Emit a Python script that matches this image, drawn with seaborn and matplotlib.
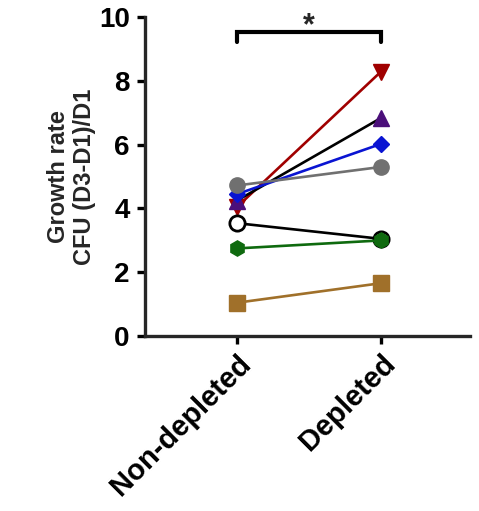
import pandas as pd
import matplotlib.pyplot as plt
import seaborn as sns

# paired growth rates, one entry per subject
groups = ["Non-depleted", "Depleted"]
non_depleted = [4.05, 4.25, 4.45, 4.72, 3.54, 2.75, 1.05]
depleted = [8.28, 6.83, 6.02, 5.30, 3.05, 3.00, 1.66]
subjects = ["s1", "s2", "s3", "s4", "s5", "s6", "s7"]
marker_styles = ["v", "^", "D", "o", "o", "h", "s"]
marker_colors = ["#a00000", "#4b0f7a", "#0a14d2", "#707070", "white", "#0f6a0f", "#a0702a"]
edge_colors = ["#a00000", "#4b0f7a", "#0a14d2", "#707070", "black", "#0f6a0f", "#a0702a"]
line_colors = ["#a00000", "black", "#0a14d2", "#707070", "black", "#0f6a0f", "#a0702a"]
marker_sizes = [11, 11, 8, 11, 11, 11, 11]

rows = []
for s, a, b in zip(subjects, non_depleted, depleted):
    rows.append({"subject": s, "pos": 0, "rate": a})
    rows.append({"subject": s, "pos": 1, "rate": b})
df = pd.DataFrame(rows)

sns.set_style("ticks")
plt.rcParams["font.family"] = ["Liberation Sans", "DejaVu Sans"]
plt.rcParams["font.weight"] = "bold"

fig = plt.figure(figsize=(4.79, 5.11), dpi=100)
ax = fig.add_axes([0.303, 0.342, 0.678, 0.625])

for i, s in enumerate(subjects):
    sns.lineplot(
        data=df[df["subject"] == s],
        x="pos",
        y="rate",
        ax=ax,
        color=line_colors[i],
        linewidth=1.9,
        marker=marker_styles[i],
        markersize=marker_sizes[i],
        markerfacecolor=marker_colors[i],
        markeredgecolor=edge_colors[i],
        markeredgewidth=2.0 if i == 4 else 1.0,
        zorder=3 + i,
    )

# significance bracket
ax.plot([0, 0, 1, 1], [9.2, 9.53, 9.53, 9.2], color="black", lw=3, clip_on=False,
        solid_joinstyle="miter")
ax.text(0.5, 9.25, "*", ha="center", va="bottom", fontsize=22, fontweight="bold")

ax.set_xlim(-0.64, 1.62)
ax.set_ylim(0, 10)
ax.set_xticks([0, 1])
ax.set_xticklabels(groups, rotation=45, ha="right", rotation_mode="anchor",
                   fontsize=21, fontweight="bold")
ax.set_yticks([0, 2, 4, 6, 8, 10])
ax.set_yticklabels([0, 2, 4, 6, 8, 10], fontsize=20, fontweight="bold")
ax.set_xlabel("")
ax.set_ylabel("Growth rate\nCFU (D3-D1)/D1", fontsize=17, fontweight="bold", labelpad=2)
ax.legend_ = None

sns.despine(ax=ax)
for sp in ["left", "bottom"]:
    ax.spines[sp].set_linewidth(2.4)
ax.tick_params(width=2.4, length=6, colors="black")
ax.tick_params(axis="y", pad=5)

fig.savefig("out.png", dpi=100)
